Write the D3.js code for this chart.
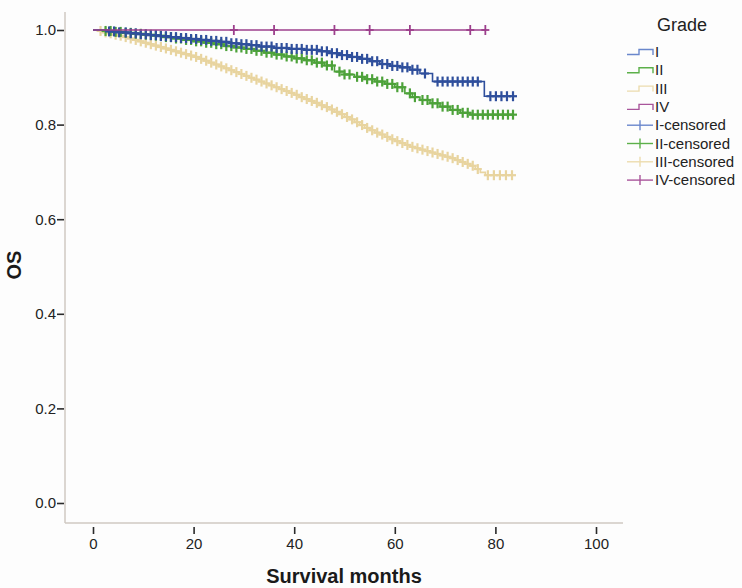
<!DOCTYPE html>
<html>
<head>
<meta charset="utf-8">
<script src="https://cdn.jsdelivr.net/npm/d3@7/dist/d3.min.js"></script>
<style>
  html, body { margin: 0; padding: 0; background: #fdfdfd; }
  svg { display: block; }
  text { font-family: "Liberation Sans", Arial, sans-serif; }
</style>
</head>
<body>
<script>
// ---------------- DATA ----------------
const grades = ["I", "II", "III", "IV"];
const legendLabels = ["I", "II", "III", "IV", "I-censored", "II-censored", "III-censored", "IV-censored"];
const xTicks = [0, 20, 40, 60, 80, 100];
const yTicks = [0.0, 0.2, 0.4, 0.6, 0.8, 1.0];

// Step event times (months) and survival after each event
const timesI = [3, 5, 7, 9, 11, 13, 15, 17, 19, 21, 23, 25, 27, 29, 31, 33, 36, 39, 42, 45, 47, 49, 51, 53, 55, 57, 59, 61, 63, 65, 67.5, 77.8];
const survI  = [0.997, 0.995, 0.993, 0.991, 0.989, 0.987, 0.985, 0.983, 0.981, 0.979, 0.977, 0.975, 0.972, 0.970, 0.968, 0.965, 0.962, 0.960, 0.958, 0.955, 0.951, 0.947, 0.943, 0.939, 0.934, 0.928, 0.924, 0.921, 0.916, 0.908, 0.891, 0.860];
const endI = 83.5;
const censI = [3.2, 4.2, 5.2, 6.5, 7.5, 8.5, 9.5, 10.5, 11.5, 12.5, 13.5, 14.5, 15.5, 16.5, 17.5, 18.5, 19.5, 20.5, 21.5, 22.5, 23.5, 24.5, 25.5, 26.5, 27.5, 28.5, 29.5, 30.5, 31.5, 32.5, 33.5, 34.5, 35.5, 36.5, 37.5, 38.5, 39.5, 40.5, 41.5, 42.5, 43.5, 44.5, 45.5, 46.5, 47.5, 48.5, 49.5, 50.5, 51.5, 52.5, 53.5, 54.5, 55.5, 56.5, 57.5, 58.5, 59.5, 60.5, 61.5, 62.5, 63.5, 64.5, 66, 68.5, 69.5, 70.5, 71.5, 72.5, 73.5, 74.5, 75.5, 76.5, 79, 80.1, 81.2, 82.3, 83.5];

const timesII = [2, 4, 6, 8, 10, 12, 14, 16, 18, 20, 22, 24, 26, 28, 30, 32, 34, 36, 38, 40, 42, 44, 46, 48, 50, 52, 54, 56, 58, 60, 62, 63.5, 65, 67, 69, 71, 73, 75];
const survII  = [0.998, 0.996, 0.994, 0.992, 0.990, 0.988, 0.985, 0.982, 0.979, 0.976, 0.973, 0.970, 0.966, 0.963, 0.960, 0.956, 0.952, 0.948, 0.944, 0.940, 0.936, 0.931, 0.925, 0.912, 0.906, 0.901, 0.896, 0.891, 0.886, 0.879, 0.866, 0.858, 0.852, 0.845, 0.838, 0.831, 0.825, 0.821];
const endII = 83.5;
const censII = [2.5, 3.5, 4.5, 5.5, 6.5, 7.5, 8.5, 9.5, 10.5, 11.5, 12.5, 13.5, 14.5, 15.5, 16.5, 17.5, 18.5, 19.5, 20.5, 21.5, 22.5, 23.5, 24.5, 25.5, 26.5, 27.5, 28.5, 29.5, 30.5, 31.5, 32.5, 33.5, 34.5, 35.5, 36.5, 37.5, 38.5, 39.5, 40.5, 41.5, 42.5, 43.5, 44.5, 45.5, 46.5, 47.5, 49, 50, 51, 52.5, 53.5, 54.5, 55.5, 56.5, 57.5, 58.5, 59.5, 60.5, 61.5, 63, 64, 65.5, 66.5, 67.5, 68.5, 69.5, 70.5, 71.5, 72.5, 73.5, 74.5, 75.5, 76.5, 77.5, 78.5, 79.5, 80.5, 81.5, 82.5, 83.5];

const timesIII = [1, 2, 3, 4, 5, 6, 7, 8, 9, 10, 11, 12, 13, 14, 15, 16, 17, 18, 19, 20, 21, 22, 23, 24, 25, 26, 27, 28, 29, 30, 31, 32, 33, 34, 35, 36, 37, 38, 39, 40, 41, 42, 43, 44, 45, 46, 47, 48, 49, 50, 51, 52, 53, 54, 55, 56, 57, 58, 59, 60, 61, 62, 63, 64, 65, 66, 67, 68, 69, 70, 71, 72, 73, 74, 75, 76, 77, 78];
const survIII  = [0.998, 0.995, 0.993, 0.990, 0.988, 0.985, 0.982, 0.979, 0.976, 0.973, 0.970, 0.967, 0.964, 0.961, 0.958, 0.955, 0.952, 0.949, 0.946, 0.943, 0.939, 0.935, 0.931, 0.927, 0.923, 0.919, 0.915, 0.911, 0.907, 0.903, 0.899, 0.895, 0.891, 0.887, 0.883, 0.879, 0.875, 0.871, 0.867, 0.863, 0.858, 0.854, 0.850, 0.846, 0.841, 0.837, 0.832, 0.827, 0.822, 0.816, 0.811, 0.805, 0.799, 0.793, 0.788, 0.783, 0.779, 0.774, 0.769, 0.765, 0.761, 0.757, 0.753, 0.750, 0.747, 0.744, 0.741, 0.738, 0.735, 0.732, 0.729, 0.725, 0.721, 0.717, 0.713, 0.706, 0.699, 0.693];
const endIII = 83.5;
const censIII = [1.5, 2.5, 3.5, 4.5, 5.5, 6.5, 7.5, 8.5, 9.5, 10.5, 11.5, 12.5, 13.5, 14.5, 15.5, 16.5, 17.5, 18.5, 19.5, 20.5, 21.5, 22.5, 23.5, 24.5, 25.5, 26.5, 27.5, 28.5, 29.5, 30.5, 31.5, 32.5, 33.5, 34.5, 35.5, 36.5, 37.5, 38.5, 39.5, 40.5, 41.5, 42.5, 43.5, 44.5, 45.5, 46.5, 47.5, 48.5, 49.5, 50.5, 51.5, 52.5, 53.5, 54.5, 55.5, 56.5, 57.5, 58.5, 59.5, 60.5, 61.5, 62.5, 63.5, 64.5, 65.5, 66.5, 67.5, 68.5, 69.5, 70.5, 71.5, 72.5, 73.5, 74.5, 75.5, 76.5, 78.5, 79.7, 80.9, 82.1, 83.3];

const timesIV = [];
const survIV  = [];
const endIV = 78;
const censIV = [28, 36, 48, 55, 63, 75, 78];

// ---------------- STYLE ----------------
const colors = { I: "#2f4f9c", II: "#4da23a", III: "#e8d49f", IV: "#9c3f8c" };
const legendColors = { I: "#6a87cc", II: "#5cb04a", III: "#ecdcae", IV: "#a9559b" };

const W = 742, H = 588;
const svg = d3.select("body").append("svg").attr("width", W).attr("height", H);
svg.append("rect").attr("width", W).attr("height", H).attr("fill", "#fdfdfd");

const x = d3.scaleLinear().domain([0, 100]).range([93, 596]);
const y = d3.scaleLinear().domain([0, 1]).range([503, 30]);

// axis lines
svg.append("line").attr("x1", 65).attr("x2", 65).attr("y1", 12).attr("y2", 523)
  .attr("stroke", "#cfc8c2").attr("stroke-width", 1.5);
svg.append("line").attr("x1", 65).attr("x2", 623).attr("y1", 523).attr("y2", 523)
  .attr("stroke", "#cfc8c2").attr("stroke-width", 1.5);

// x axis ticks
const gx = svg.append("g").attr("transform", "translate(0,527)")
  .call(d3.axisBottom(x).tickValues(xTicks).tickSize(7).tickSizeOuter(0).tickFormat(d3.format("d")));
gx.select(".domain").remove();
gx.selectAll(".tick line").attr("stroke", "#2a2a2a").attr("stroke-width", 1.6);
gx.selectAll(".tick text").attr("fill", "#222").attr("font-size", 15)
  .attr("font-family", "Liberation Sans, Arial, sans-serif").attr("y", 11);

// y axis ticks
const gy = svg.append("g").attr("transform", "translate(64,0)")
  .call(d3.axisLeft(y).tickValues(yTicks).tickSize(7).tickSizeOuter(0).tickFormat(d3.format(".1f")));
gy.select(".domain").remove();
gy.selectAll(".tick line").attr("stroke", "#2a2a2a").attr("stroke-width", 1.6);
gy.selectAll(".tick text").attr("fill", "#222").attr("font-size", 15)
  .attr("font-family", "Liberation Sans, Arial, sans-serif").attr("x", -8);

// axis titles
svg.append("text").attr("x", 344).attr("y", 583).attr("text-anchor", "middle")
  .attr("font-size", 20).attr("font-weight", "bold").attr("fill", "#1a1a1a").text("Survival months");
svg.append("text").attr("transform", "translate(21,265) rotate(-90)").attr("text-anchor", "middle")
  .attr("font-size", 20).attr("font-weight", "bold").attr("fill", "#1a1a1a").text("OS");

// curves
const series = [
  { g: "III", times: timesIII, surv: survIII, end: endIII, cens: censIII },
  { g: "II", times: timesII, surv: survII, end: endII, cens: censII },
  { g: "I", times: timesI, surv: survI, end: endI, cens: censI },
  { g: "IV", times: timesIV, surv: survIV, end: endIV, cens: censIV }
];

const line = d3.line().x(d => x(d[0])).y(d => y(d[1])).curve(d3.curveStepAfter);

function survAt(s, t) {
  let v = 1;
  for (let i = 0; i < s.times.length; i++) { if (s.times[i] <= t) v = s.surv[i]; }
  return v;
}

series.forEach(s => {
  const pts = [[0, 1]];
  s.times.forEach((t, i) => pts.push([t, s.surv[i]]));
  pts.push([s.end, s.surv.length ? s.surv[s.surv.length - 1] : 1]);
  svg.append("path").attr("d", line(pts)).attr("fill", "none")
    .attr("stroke", colors[s.g]).attr("stroke-width", 1.6);
  const big = s.g !== "IV";
  const cg = svg.append("g").attr("stroke", colors[s.g]).attr("stroke-width", big ? 2.2 : 1.8);
  s.cens.forEach(t => {
    const cx = x(t), cy = y(survAt(s, t));
    cg.append("line").attr("x1", cx).attr("x2", cx).attr("y1", cy - 5).attr("y2", cy + 5);
    cg.append("line").attr("x1", cx - 4).attr("x2", cx + 4).attr("y1", cy).attr("y2", cy);
  });
});

// legend
svg.append("text").attr("x", 682).attr("y", 31).attr("text-anchor", "middle")
  .attr("font-size", 18).attr("fill", "#222").text("Grade");
const legY0 = 52, legDy = 18.3;
legendLabels.forEach((lab, i) => {
  const gy0 = legY0 + i * legDy;
  const g = grades[i % 4];
  const col = legendColors[g];
  if (i < 4) {
    svg.append("path")
      .attr("d", `M627,${gy0 + 2.5} L639,${gy0 + 2.5} L639,${gy0 - 2.5} L653,${gy0 - 2.5} L653,${gy0 + 3}`)
      .attr("fill", "none").attr("stroke", col).attr("stroke-width", 1.4);
  } else {
    svg.append("line").attr("x1", 627).attr("x2", 653).attr("y1", gy0).attr("y2", gy0)
      .attr("stroke", col).attr("stroke-width", 1.4);
    svg.append("line").attr("x1", 640).attr("x2", 640).attr("y1", gy0 - 5).attr("y2", gy0 + 5)
      .attr("stroke", col).attr("stroke-width", 1.4);
  }
  svg.append("text").attr("x", 655).attr("y", gy0 + 5).attr("font-size", 15)
    .attr("fill", "#222").text(lab);
});
</script>
</body>
</html>
